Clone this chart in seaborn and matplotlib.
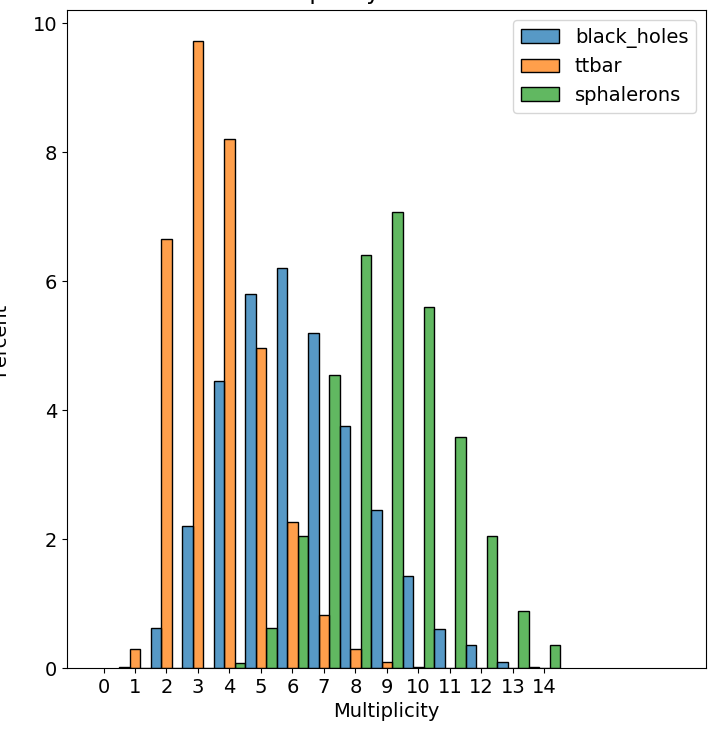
import pandas as pd
import seaborn as sns
import matplotlib
matplotlib.use("Agg")
import matplotlib.pyplot as plt

# values (percent of all events)
multiplicity = list(range(1, 15))
black_holes = [0.02, 0.62, 2.2, 4.45, 5.8, 6.2, 5.2, 3.75, 2.45, 1.42, 0.6, 0.36, 0.1, 0.02]
ttbar = [0.3, 6.65, 9.72, 8.2, 4.97, 2.27, 0.82, 0.3, 0.1, 0.02, 0.0, 0.0, 0.0, 0.0]
sphalerons = [0.0, 0.0, 0.0, 0.08, 0.62, 2.05, 4.55, 6.4, 7.08, 5.6, 3.58, 2.05, 0.88, 0.35]
samples = ["black_holes", "ttbar", "sphalerons"]
tick_labels = [str(i) for i in range(15)]

df = pd.DataFrame({
    "Multiplicity": multiplicity * 3,
    "Percent": black_holes + ttbar + sphalerons,
    "sample": [s for s in samples for _ in multiplicity],
})

plt.rcParams["font.size"] = 14

fig = plt.figure(figsize=(7.08, 7.42), dpi=100)
ax = fig.add_axes([0.0946, 0.0997, 0.9025, 0.8868])

# one bin per integer multiplicity
edges = [m - 0.5 for m in multiplicity] + [max(multiplicity) + 0.5]
sns.histplot(
    data=df,
    x="Multiplicity",
    weights="Percent",
    hue="sample",
    hue_order=samples,
    bins=edges,
    multiple="dodge",
    shrink=1,
    ax=ax,
)

ax.set_xticks(range(15))
ax.set_xticklabels(tick_labels)
ax.set_xlim(-1.16, 19.13)
ax.set_ylabel("Percent", labelpad=17)
ax.set_xlabel("Multiplicity")
# the screenshot is cropped, only the bottom of the title shows
ax.set_title("Multiplicity distribution", pad=8)

sns.move_legend(ax, "upper right", title=None, fontsize=14)

fig.savefig("out.png", dpi=100)
